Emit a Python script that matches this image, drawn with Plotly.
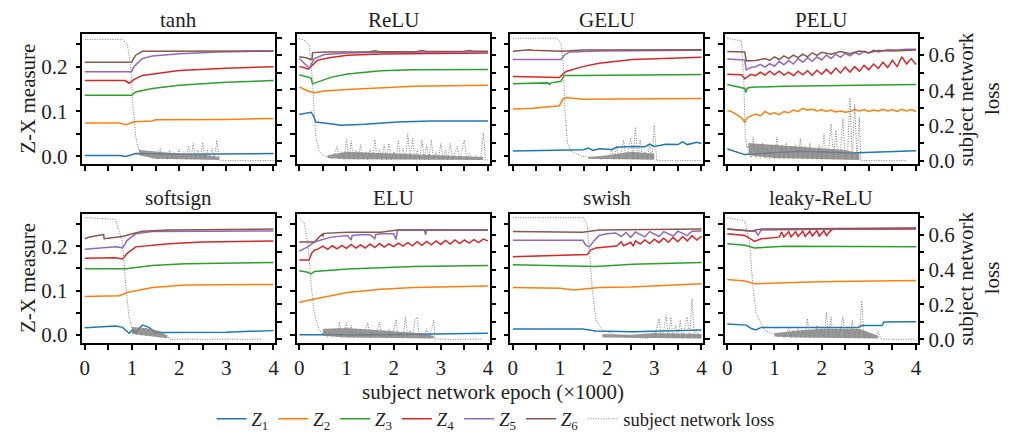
import numpy as np
import plotly.graph_objects as go

# ---------------- data ----------------
STEP = 0.05  # x spacing of the typed values in the noisy part of each loss curve

# tanh
tanh_Z1 = [(0,0.0015),(0.73,0.0015),(0.87,-0.0007),(1.08,0.0058),(2.0,0.0044),(3,0.005),(4,0.0058)]
tanh_Z2 = [(0,0.0742),(0.73,0.0742),(0.88,0.0706),(1.04,0.0771),(1.43,0.0786),(1.5,0.0815),(3,0.0822),(4,0.0844)]
tanh_Z3 = [(0,0.136),(0.99,0.136),(1.08,0.1434),(1.43,0.1514),(2,0.1587),(3,0.1652),(4,0.1689)]
tanh_Z4 = [(0,0.169),(0.85,0.169),(0.94,0.163),(1.04,0.171),(1.22,0.1805),(1.64,0.1856),(2,0.1914),(3,0.1965),(4,0.2)]
tanh_Z5 = [(0,0.1885),(0.99,0.1885),(1.04,0.2),(1.22,0.218),(1.43,0.224),(2,0.229),(2.84,0.233),(4,0.235)]
tanh_Z6 = [(0,0.21),(0.99,0.21),(1.08,0.2256),(1.22,0.2343),(4,0.235)]
tanh_loss_pre = [(0,0.689),(0.8,0.689),(0.9,0.663),(0.97,0.543),(1.02,0.32),(1.08,0.135),(1.15,0.061),(1.29,0.033),(1.4,0.024)]
tanh_loss_start = 1.45
tanh_loss_noisy = [0.011,0.045,0.008,0.07,0.01,0.04,0.008,0.06,0.01,0.045,0.007,0.065,0.01,0.05,0.008,
                   0.085,0.01,0.098,0.008,0.06,0.01,0.104,0.008,0.06,0.01,0.07,0.008,0.117,0.004]
tanh_loss_post = [(2.88,0.0),(4,0.0)]
tanh_band = [(1.15,0.03,0.06),(1.5,0.01,0.05),(2.0,0.008,0.04),(2.5,0.006,0.035),(2.85,0.004,0.02)]

# ReLU
relu_Z1 = [(0,0.0932),(0.1,0.0946),(0.25,0.0983),(0.3,0.09),(0.35,0.0764),(0.53,0.074),(0.88,0.0691),(1.38,0.0713),(2.08,0.0764),(2.79,0.0786),(4,0.0786)]
relu_Z2 = [(0,0.155),(0.18,0.1456),(0.32,0.1419),(0.53,0.1456),(1.02,0.1492),(1.73,0.1528),(2.43,0.1565),(4,0.1587)]
relu_Z3 = [(0,0.182),(0.14,0.1783),(0.25,0.1747),(0.28,0.1616),(0.67,0.1761),(1.02,0.1834),(1.73,0.1907),(2.43,0.1929),(4,0.1936)]
relu_Z4 = [(0,0.2001),(0.1,0.198),(0.19,0.1943),(0.28,0.2038),(0.39,0.2147),(0.67,0.2205),(1.02,0.2256),(1.73,0.2285),(4,0.2307)]
relu_Z5 = [(0,0.2183),(0.04,0.2147),(0.18,0.2),(0.21,0.1965),(0.32,0.2183),(0.53,0.2271),(1.02,0.2307),(1.73,0.2322),(4,0.2329)]
relu_Z6 = [(0,0.222),(0.14,0.2198),(0.25,0.2162),(0.27,0.2162),(0.28,0.2314),(0.53,0.233),(1.5,0.2335),(1.6,0.2355),(1.7,0.2335),(2.5,0.234),(2.6,0.236),(2.7,0.234),(3.5,0.2343),(3.6,0.236),(3.7,0.2343),(4,0.2343)]
relu_loss_pre = [(0,0.694),(0.14,0.681),(0.21,0.654),(0.28,0.45),(0.32,0.265),(0.35,0.135),(0.42,0.052),(0.53,0.028),(0.65,0.015)]
relu_loss_start = 0.70
relu_loss_noisy = [0.01,0.04,0.08,0.01,0.05,0.008,0.12,0.01,0.113,0.008,0.06,0.008,0.09,0.008,0.05,0.007,
                   0.065,0.007,0.12,0.007,0.06,0.007,0.09,0.006,0.098,0.006,0.05,0.006,0.111,0.006,0.07,0.006,
                   0.154,0.006,0.126,0.006,0.06,0.006,0.117,0.006,0.09,0.006,0.117,0.006,0.05,0.006,0.098,0.006,
                   0.06,0.005,0.098,0.005,0.05,0.08,0.005,0.06,0.117,0.005,0.04,0.024,0.005,0.03,0.005,0.02,0.157]
relu_loss_post = [(3.95,0.003),(4,0.003)]
relu_band = [(0.6,0.015,0.03),(1.0,0.008,0.05),(2.0,0.006,0.04),(3.0,0.005,0.03),(3.9,0.004,0.02)]

# GELU
gelu_Z1 = [(0,0.0116),(0.99,0.013),(1.5,0.0145),(1.6,0.018),(1.7,0.013),(1.83,0.0167),(2.1,0.015),(2.2,0.02),(2.54,0.0218),(2.8,0.021),(2.9,0.027),(3.0,0.022),(3.25,0.0269),(3.5,0.026),(3.6,0.032),(3.7,0.026),(3.9,0.031),(4,0.0284)]
gelu_Z2 = [(0,0.1055),(0.42,0.107),(0.99,0.1128),(1.06,0.1274),(1.13,0.131),(1.48,0.1274),(4,0.1288)]
gelu_Z3 = [(0,0.1616),(0.74,0.1638),(0.78,0.1601),(0.81,0.1638),(1.02,0.1674),(1.09,0.1805),(1.48,0.1805),(4,0.1827)]
gelu_Z4 = [(0,0.1783),(0.99,0.176),(1.06,0.1834),(1.13,0.1892),(1.48,0.2001),(1.83,0.2074),(2.54,0.2162),(3.25,0.2183),(4,0.2213)]
gelu_Z5 = [(0,0.2162),(1.02,0.2162),(1.09,0.2256),(1.2,0.2329),(1.83,0.235),(4,0.2365)]
gelu_Z6 = [(0,0.2344),(0.35,0.238),(0.42,0.2365),(1.06,0.2344),(1.48,0.2373),(4,0.238)]
gelu_loss_pre = [(0,0.696),(0.92,0.696),(1.02,0.672),(1.07,0.543),(1.11,0.265),(1.16,0.098),(1.23,0.052),(1.48,0.024),(1.83,0.011)]
gelu_loss_start = 1.90
gelu_loss_noisy = [0.008,0.02,0.006,0.03,0.061,0.006,0.083,0.006,0.05,0.117,0.006,0.06,0.131,0.006,0.191,0.006,
                   0.117,0.006,0.05,0.006,0.098,0.006,0.2,0.0]
gelu_loss_post = [(4,0.0)]
gelu_band = [(1.6,0.01,0.02),(2.0,0.008,0.03),(2.5,0.006,0.05),(3.0,0.005,0.04)]

# PELU
pelu_Z1 = [(0,0.016),(0.37,0.0036),(0.86,0.0073),(1.57,0.0109),(2.62,0.0073),(4,0.0124)]
pelu_Z2 = [(0,0.102),(0.1,0.099),(0.2,0.093),(0.3,0.086),(0.37,0.076),(0.42,0.086),(0.5,0.09),(0.6,0.094),(0.7,0.09),
           (0.8,0.1),(0.9,0.094),(1.0,0.097),(1.1,0.093),(1.2,0.1),(1.3,0.097),(1.4,0.103),(1.5,0.1),(1.6,0.107),
           (1.7,0.103),(1.8,0.105),(1.9,0.101),(2.0,0.104),(2.1,0.1),(2.2,0.103),(2.3,0.099),(2.4,0.101),(2.5,0.098),
           (2.6,0.1),(2.7,0.104),(2.8,0.101),(2.9,0.104),(3.0,0.1),(3.1,0.103),(3.2,0.101),(3.3,0.105),(3.4,0.101),
           (3.5,0.104),(3.6,0.1),(3.7,0.105),(3.8,0.101),(3.9,0.104),(4.0,0.1)]
pelu_Z3 = [(0,0.1601),(0.3,0.154),(0.37,0.1514),(0.39,0.142),(0.42,0.152),(0.51,0.154),(1.21,0.1565),(4,0.1601)]
pelu_Z4 = [(0,0.183),(0.3,0.182),(0.37,0.173),(0.45,0.178),(0.5,0.183),(0.6,0.18),(0.7,0.188),(0.8,0.181),(0.9,0.19),
           (1.0,0.182),(1.1,0.19),(1.2,0.181),(1.3,0.188),(1.4,0.18),(1.5,0.19),(1.6,0.182),(1.7,0.191),(1.8,0.181),
           (1.9,0.192),(2.0,0.183),(2.1,0.194),(2.2,0.184),(2.3,0.197),(2.4,0.186),(2.5,0.199),(2.6,0.188),(2.7,0.2),
           (2.8,0.19),(2.9,0.203),(3.0,0.193),(3.1,0.206),(3.2,0.196),(3.3,0.21),(3.4,0.198),(3.5,0.214),(3.6,0.2),
           (3.7,0.222),(3.8,0.206),(3.9,0.218),(4.0,0.205)]
pelu_Z5 = [(0,0.217),(0.37,0.215),(0.4,0.193),(0.5,0.198),(0.6,0.2),(0.7,0.205),(0.8,0.199),(0.9,0.207),(1.0,0.201),
           (1.1,0.212),(1.2,0.204),(1.3,0.214),(1.4,0.206),(1.5,0.218),(1.6,0.21),(1.7,0.22),(1.8,0.212),(1.9,0.222),
           (2.0,0.215),(2.1,0.226),(2.2,0.218),(2.3,0.228),(2.4,0.221),(2.5,0.23),(2.6,0.224),(2.7,0.232),(2.8,0.227),
           (2.9,0.235),(3.0,0.23),(3.1,0.237),(3.2,0.233),(3.4,0.238),(3.6,0.237),(3.8,0.239),(4.0,0.239)]
pelu_Z6 = [(0,0.234),(0.37,0.233),(0.4,0.213),(0.6,0.214),(0.8,0.218),(0.9,0.214),(1.0,0.222),(1.1,0.216),(1.2,0.224),
           (1.3,0.218),(1.4,0.226),(1.5,0.22),(1.6,0.228),(1.7,0.222),(1.8,0.231),(1.9,0.225),(2.0,0.232),(2.2,0.228),
           (2.4,0.234),(2.6,0.229),(2.8,0.235),(3.0,0.231),(3.2,0.236),(3.5,0.235),(4.0,0.237)]
pelu_loss_pre = [(0,0.696),(0.3,0.681),(0.35,0.45),(0.38,0.135),(0.42,0.07)]
pelu_loss_start = 0.45
pelu_loss_noisy = [0.09,0.015,0.135,0.015,0.08,0.012,0.1,0.012,0.07,0.012,0.09,0.01,0.135,0.01,0.09,0.01,0.1,0.01,
                   0.08,0.01,0.09,0.01,0.126,0.01,0.08,0.008,0.1,0.008,0.07,0.008,0.09,0.008,0.154,0.008,0.06,0.209,
                   0.008,0.172,0.008,0.05,0.237,0.006,0.04,0.357,0.006,0.32,0.006,0.246]
pelu_loss_post = [(2.83,0.0),(3.8,0.0)]
pelu_band = [(0.45,0.03,0.1),(1.0,0.015,0.09),(1.5,0.01,0.08),(2.0,0.008,0.07),(2.5,0.005,0.06),(2.8,0.004,0.04)]

# softsign
soft_Z1 = [(0,0.0162),(0.65,0.0198),(0.8,0.017),(0.94,0.0037),(1.01,0.011),(1.08,0.0051),(1.22,0.022),(1.36,0.0169),
           (1.5,0.0051),(1.92,0.0051),(2.49,0.0066),(3,0.006),(3.5,0.008),(4,0.0096)]
soft_Z2 = [(0,0.0867),(0.73,0.0882),(0.9,0.0956),(1.43,0.1066),(2.13,0.1125),(4,0.1139)]
soft_Z3 = [(0,0.1492),(0.87,0.1492),(1.43,0.1566),(2.13,0.1602),(4,0.1632)]
soft_Z4 = [(0,0.1727),(0.65,0.1742),(0.8,0.1712),(0.9,0.1838),(1.08,0.1985),(1.78,0.2058),(2.49,0.2095),(4,0.2117)]
soft_Z5 = [(0,0.1933),(0.65,0.1985),(0.8,0.1963),(0.9,0.2132),(1.08,0.2279),(1.43,0.233),(4,0.2345)]
soft_Z6 = [(0,0.2168),(0.1,0.221),(0.37,0.2256),(0.4,0.2256),(0.41,0.2168),(0.8,0.222),(1.01,0.2279),(1.22,0.2337),(1.78,0.2367),(4,0.2389)]
soft_loss_pre = [(0,0.698),(0.65,0.689),(0.8,0.558),(0.88,0.277),(0.94,0.127),(1.0,0.06)]
soft_loss_start = 1.05
soft_loss_noisy = [0.06,0.025,0.065,0.022,0.06,0.02,0.055,0.018,0.05,0.015,0.045,0.012,0.035,0.01,0.02]
soft_loss_post = [(1.8,0.0),(3.75,0.0)]
soft_band = [(1.0,0.03,0.07),(1.3,0.02,0.065),(1.6,0.01,0.045),(1.75,0.005,0.02)]

# ELU
elu_Z1 = [(0,0.0),(1.73,0.0),(4,0.0037)]
elu_Z2 = [(0,0.0735),(0.18,0.077),(0.32,0.0809),(1.02,0.0956),(1.73,0.1029),(2.43,0.1066),(4,0.1103)]
elu_Z3 = [(0,0.1448),(0.18,0.1411),(0.25,0.1375),(0.32,0.143),(1.02,0.1485),(2.43,0.1544),(4,0.1566)]
elu_Z4 = [(0,0.169),(0.21,0.169),(0.26,0.184),(0.32,0.191),(0.4,0.194),(0.5,0.2),(0.6,0.193),(0.7,0.201),(0.8,0.194),
          (0.9,0.202),(1.0,0.195),(1.1,0.204),(1.2,0.196),(1.3,0.203),(1.4,0.196),(1.5,0.205),(1.6,0.197),(1.7,0.206),
          (1.8,0.198),(1.9,0.205),(2.0,0.199),(2.1,0.207),(2.2,0.2),(2.3,0.208),(2.4,0.201),(2.5,0.21),(2.6,0.202),
          (2.7,0.211),(2.8,0.203),(2.9,0.212),(3.0,0.204),(3.1,0.213),(3.2,0.205),(3.3,0.214),(3.4,0.206),(3.5,0.214),
          (3.6,0.207),(3.7,0.215),(3.8,0.208),(3.9,0.216),(4.0,0.212)]
elu_Z5 = [(0,0.1889),(0.18,0.1985),(0.32,0.2095),(0.67,0.2205),(1.02,0.2242),(1.1,0.214),(1.12,0.2242),(1.3,0.226),
          (1.5,0.226),(1.6,0.217),(1.62,0.226),(1.73,0.2279),(2.0,0.228),(2.05,0.215),(2.08,0.2367),(2.65,0.2367),
          (2.68,0.226),(2.7,0.2367),(4,0.2367)]
elu_Z6 = [(0,0.2095),(0.32,0.2095),(0.49,0.2279),(0.5,0.222),(0.52,0.229),(1.02,0.2315),(1.73,0.2315),(2.08,0.2367),(4,0.2367)]
elu_loss_pre = [(0,0.698),(0.1,0.67),(0.18,0.558),(0.25,0.315),(0.32,0.146),(0.42,0.052),(0.5,0.03)]
elu_loss_start = 0.55
elu_loss_noisy = [0.045,0.01,0.05,0.01,0.06,0.01,0.099,0.01,0.06,0.094,0.01,0.08,0.01,0.06,0.01,0.05,0.01,0.06,
                  0.094,0.008,0.05,0.008,0.06,0.099,0.008,0.05,0.008,0.06,0.008,0.05,0.114,0.006,0.04,0.006,0.127,
                  0.006,0.05,0.006,0.109,0.127,0.006,0.04,0.006,0.06,0.006,0.05,0.109]
elu_loss_post = [(2.88,0.0),(3.85,0.0)]
elu_band = [(0.5,0.02,0.06),(1.0,0.01,0.065),(1.5,0.008,0.055),(2.0,0.006,0.045),(2.5,0.005,0.035),(2.85,0.004,0.02)]

# swish
swish_Z1 = [(0,0.0132),(1.48,0.0132),(1.76,0.0088),(2.54,0.0073),(4,0.011)]
swish_Z2 = [(0,0.1066),(1.0,0.105),(1.3,0.1015),(1.5,0.104),(1.83,0.1066),(2.5,0.108),(3,0.111),(4,0.1154)]
swish_Z3 = [(0,0.158),(1.13,0.1566),(1.76,0.1544),(2.54,0.1595),(4,0.1632)]
swish_Z4 = [(0,0.1764),(1.13,0.1801),(1.58,0.1815),(1.65,0.1911),(1.76,0.1962),(2.18,0.2007),(2.2,0.2),(2.3,0.21),
            (2.35,0.201),(2.5,0.209),(2.55,0.2),(2.6,0.212),(2.7,0.205),(2.8,0.214),(2.9,0.206),(3.0,0.216),(3.1,0.208),
            (3.2,0.218),(3.3,0.209),(3.4,0.22),(3.5,0.21),(3.6,0.222),(3.7,0.212),(3.8,0.224),(3.9,0.214),(4.0,0.222)]
swish_Z5 = [(0,0.2132),(1.48,0.2132),(1.55,0.2021),(1.62,0.1985),(1.73,0.2132),(1.83,0.2242),(2.0,0.228),(2.18,0.23),
            (2.3,0.222),(2.4,0.231),(2.5,0.22),(2.6,0.232),(2.8,0.221),(2.9,0.233),(3.1,0.222),(3.2,0.233),(3.4,0.223),
            (3.5,0.234),(3.7,0.224),(3.8,0.234),(4.0,0.2345)]
swish_Z6 = [(0,0.233),(1.48,0.2315),(1.83,0.2367),(4,0.2389)]
swish_loss_pre = [(0,0.698),(1.51,0.698),(1.58,0.652),(1.63,0.455),(1.69,0.277),(1.76,0.109),(1.9,0.052),(2.18,0.024),(2.54,0.011),(2.85,0.006)]
swish_loss_start = 2.90
swish_loss_noisy = [0.006,0.03,0.006,0.06,0.118,0.006,0.05,0.137,0.006,0.127,0.006,0.08,0.006,0.109,0.006,0.07,
                    0.127,0.006,0.231,0.006,0.06,0.006,0.02]
swish_loss_post = []
swish_band = [(1.9,0.01,0.03),(2.5,0.006,0.025),(3.0,0.005,0.035),(4.0,0.004,0.03)]

# leaky-ReLU
leaky_Z1 = [(0,0.0243),(0.4,0.022),(0.51,0.0143),(0.6,0.011),(0.72,0.0169),(2.77,0.0169),(2.85,0.021),(3.28,0.021),(3.32,0.029),(4,0.0294)]
leaky_Z2 = [(0,0.125),(0.37,0.1213),(0.58,0.1154),(1.92,0.1198),(4,0.1227)]
leaky_Z3 = [(0,0.2058),(0.37,0.2021),(0.58,0.1962),(1.21,0.1999),(4,0.1985)]
leaky_Z4 = [(0,0.2279),(0.37,0.2242),(0.51,0.2154),(0.58,0.211),(0.72,0.2168),(1.1,0.2205),(1.15,0.232),(1.2,0.221),
            (1.3,0.233),(1.35,0.221),(1.45,0.233),(1.5,0.222),(1.6,0.234),(1.65,0.222),(1.75,0.234),(1.8,0.223),
            (1.9,0.235),(1.95,0.223),(2.05,0.235),(2.1,0.224),(2.2,0.236),(2.25,0.238),(4,0.239)]
leaky_Z5 = [(0,0.2389),(0.51,0.233),(0.6,0.233),(0.65,0.225),(0.7,0.236),(0.72,0.2367),(4,0.2404)]
leaky_Z6 = [(0,0.2389),(0.51,0.2345),(0.72,0.2389),(4,0.2411)]
leaky_loss_pre = [(0,0.698),(0.37,0.679),(0.47,0.558),(0.54,0.315),(0.61,0.146),(0.79,0.052),(1.05,0.024)]
leaky_loss_start = 1.10
leaky_loss_noisy = [0.01,0.03,0.008,0.04,0.062,0.008,0.05,0.008,0.06,0.008,0.05,0.008,0.118,0.008,0.05,0.008,0.08,
                    0.008,0.06,0.008,0.155,0.008,0.127,0.006,0.06,0.006,0.05,0.127,0.006,0.06,0.006,0.109,0.006,0.07,
                    0.006,0.221,0.006,0.04,0.006,0.03,0.005,0.02,0.043,0.004,0.0]
leaky_loss_post = [(4,0.0)]
leaky_band = [(1.0,0.015,0.035),(1.5,0.01,0.05),(2.0,0.008,0.06),(2.8,0.006,0.06),(3.2,0.004,0.02)]

PANEL_TITLES = ["tanh", "ReLU", "GELU", "PELU", "softsign", "ELU", "swish", "leaky-ReLU"]
PANEL_Z = [
    [tanh_Z1, tanh_Z2, tanh_Z3, tanh_Z4, tanh_Z5, tanh_Z6],
    [relu_Z1, relu_Z2, relu_Z3, relu_Z4, relu_Z5, relu_Z6],
    [gelu_Z1, gelu_Z2, gelu_Z3, gelu_Z4, gelu_Z5, gelu_Z6],
    [pelu_Z1, pelu_Z2, pelu_Z3, pelu_Z4, pelu_Z5, pelu_Z6],
    [soft_Z1, soft_Z2, soft_Z3, soft_Z4, soft_Z5, soft_Z6],
    [elu_Z1, elu_Z2, elu_Z3, elu_Z4, elu_Z5, elu_Z6],
    [swish_Z1, swish_Z2, swish_Z3, swish_Z4, swish_Z5, swish_Z6],
    [leaky_Z1, leaky_Z2, leaky_Z3, leaky_Z4, leaky_Z5, leaky_Z6],
]
PANEL_LOSS = [
    (tanh_loss_pre, tanh_loss_start, tanh_loss_noisy, tanh_loss_post, tanh_band),
    (relu_loss_pre, relu_loss_start, relu_loss_noisy, relu_loss_post, relu_band),
    (gelu_loss_pre, gelu_loss_start, gelu_loss_noisy, gelu_loss_post, gelu_band),
    (pelu_loss_pre, pelu_loss_start, pelu_loss_noisy, pelu_loss_post, pelu_band),
    (soft_loss_pre, soft_loss_start, soft_loss_noisy, soft_loss_post, soft_band),
    (elu_loss_pre, elu_loss_start, elu_loss_noisy, elu_loss_post, elu_band),
    (swish_loss_pre, swish_loss_start, swish_loss_noisy, swish_loss_post, swish_band),
    (leaky_loss_pre, leaky_loss_start, leaky_loss_noisy, leaky_loss_post, leaky_band),
]
SERIES_NAMES = ["<i>Z</i><sub>%d</sub>" % k for k in range(1, 7)]
LOSS_NAME = "subject network loss"
X_TICKS = [0, 0.5, 1, 1.5, 2, 2.5, 3, 3.5, 4]
X_TICKTEXT = ["0", "", "1", "", "2", "", "3", "", "4"]
YL_TICKS = [0, 0.05, 0.1, 0.15, 0.2, 0.25]
YL_TICKTEXT = ["0.0", "", "0.1", "", "0.2", ""]
YR_TICKS = [0, 0.1, 0.2, 0.3, 0.4, 0.5, 0.6, 0.7]
YR_TICKTEXT = ["0.0", "", "0.2", "", "0.4", "", "0.6", ""]

# ---------------- styling / layout ----------------
COLORS = ["#1f77b4", "#ff7f0e", "#2ca02c", "#d62728", "#9467bd", "#8c564b"]
LOSS_COLOR = "#7f7f7f"
BAND_COLOR = "rgba(128,128,128,0.8)"
FONT = "Liberation Serif"
TXT = "#1e1e1e"
W, H = 1012, 441
FS = 21

PANEL_LEFT = [80, 296, 511, 727]
PANEL_W = 194
ROW_Y = [(34.7, 167.7), (218.3, 350.0)]

fig = go.Figure()
layout = {}

for i in range(8):
    row, col = divmod(i, 4)
    sx = "" if i == 0 else str(i + 1)
    xref = "x" + sx
    yl, yr = 2 * i + 1, 2 * i + 2
    ylref = "y" if yl == 1 else "y%d" % yl
    yrref = "y%d" % yr

    for j, pts in enumerate(PANEL_Z[i]):
        fig.add_trace(go.Scatter(
            x=[p[0] for p in pts], y=[p[1] for p in pts], mode="lines",
            line=dict(color=COLORS[j], width=1.5), name=SERIES_NAMES[j],
            legendgroup="z%d" % j, showlegend=(i == 0), xaxis=xref, yaxis=ylref,
            hoverinfo="skip"))

    pre, start, noisy, post, band = PANEL_LOSS[i]
    # dense part of the loss curve (the many overlapping oscillations)
    bx = [b[0] for b in band] + [b[0] for b in band[::-1]]
    by = [b[2] for b in band] + [b[1] for b in band[::-1]]
    fig.add_trace(go.Scatter(
        x=bx, y=by, mode="lines", fill="toself", fillcolor=BAND_COLOR,
        line=dict(width=0, color=BAND_COLOR), showlegend=False, legendgroup="loss",
        xaxis=xref, yaxis=yrref, hoverinfo="skip"))
    lx = [p[0] for p in pre] + [start + STEP * k for k in range(len(noisy))] + [p[0] for p in post]
    ly = [p[1] for p in pre] + list(noisy) + [p[1] for p in post]
    fig.add_trace(go.Scatter(
        x=lx, y=ly, mode="lines", line=dict(color=LOSS_COLOR, width=1, dash="1px,1.5px"),
        name=LOSS_NAME, legendgroup="loss", showlegend=(i == 0),
        xaxis=xref, yaxis=yrref, hoverinfo="skip"))

    x0 = PANEL_LEFT[col] / W
    x1 = (PANEL_LEFT[col] + PANEL_W) / W
    ytop, ybot = ROW_Y[row]
    yd = [1 - ybot / H, 1 - ytop / H]
    tickfont = dict(family=FONT, size=FS, color=TXT)
    common = dict(showline=True, linecolor="black", linewidth=1.5, ticks="outside",
                  ticklen=5, tickwidth=1.5, tickcolor="black", showgrid=False,
                  zeroline=False, tickfont=tickfont, fixedrange=True)

    layout["xaxis" + sx] = dict(common, domain=[x0, x1], anchor=ylref, range=[-0.05, 4.035],
                                tickmode="array", tickvals=X_TICKS,
                                ticktext=X_TICKTEXT if row == 1 else [""] * len(X_TICKS),
                                mirror=True)
    layout["yaxis" + ("" if yl == 1 else str(yl))] = dict(
        common, domain=yd, anchor=xref, range=[-0.018, 0.273], tickmode="array",
        tickvals=YL_TICKS, ticktext=YL_TICKTEXT if col == 0 else [""] * len(YL_TICKS),
        ticklabelstandoff=4)
    layout["yaxis%d" % yr] = dict(
        common, domain=yd, anchor=xref, overlaying=ylref, side="right",
        range=[-0.021, 0.72], tickmode="array", tickvals=YR_TICKS,
        ticktext=YR_TICKTEXT if col == 3 else [""] * len(YR_TICKS))


def ann(text, xpx, ypx, size=FS, angle=0):
    return dict(text=text, x=xpx / W, y=1 - ypx / H, xref="paper", yref="paper",
                showarrow=False, textangle=angle, xanchor="center", yanchor="middle",
                font=dict(family=FONT, size=size, color=TXT))


annotations = []
for i, t in enumerate(PANEL_TITLES):
    row, col = divmod(i, 4)
    annotations.append(ann(t, PANEL_LEFT[col] + PANEL_W / 2, 20 if row == 0 else 202))
for yc in (101, 284):
    annotations.append(ann("Z-X measure", 25, yc, angle=-90))
    annotations.append(ann("subject network", 970, yc, angle=-90))
    annotations.append(ann("loss", 996, yc, angle=-90))
annotations.append(ann("subject network epoch (×1000)", 493, 400))

fig.update_layout(
    **layout,
    annotations=annotations,
    width=W, height=H, autosize=False,
    margin=dict(l=0, r=0, t=0, b=0),
    paper_bgcolor="white", plot_bgcolor="white",
    showlegend=True,
    legend=dict(orientation="h", x=496 / W, xanchor="center", y=1 - 428 / H, yanchor="middle",
                font=dict(family=FONT, size=18.5, color=TXT), itemwidth=30,
                bgcolor="rgba(0,0,0,0)", tracegroupgap=0),
)

# the page's default 8px body margin would shift the whole figure; remove it
fig.write_html("out.html",
               config={"displayModeBar": False},
               post_script="document.body.style.margin='0';document.body.style.padding='0';"
                           "document.body.style.overflow='hidden';")
